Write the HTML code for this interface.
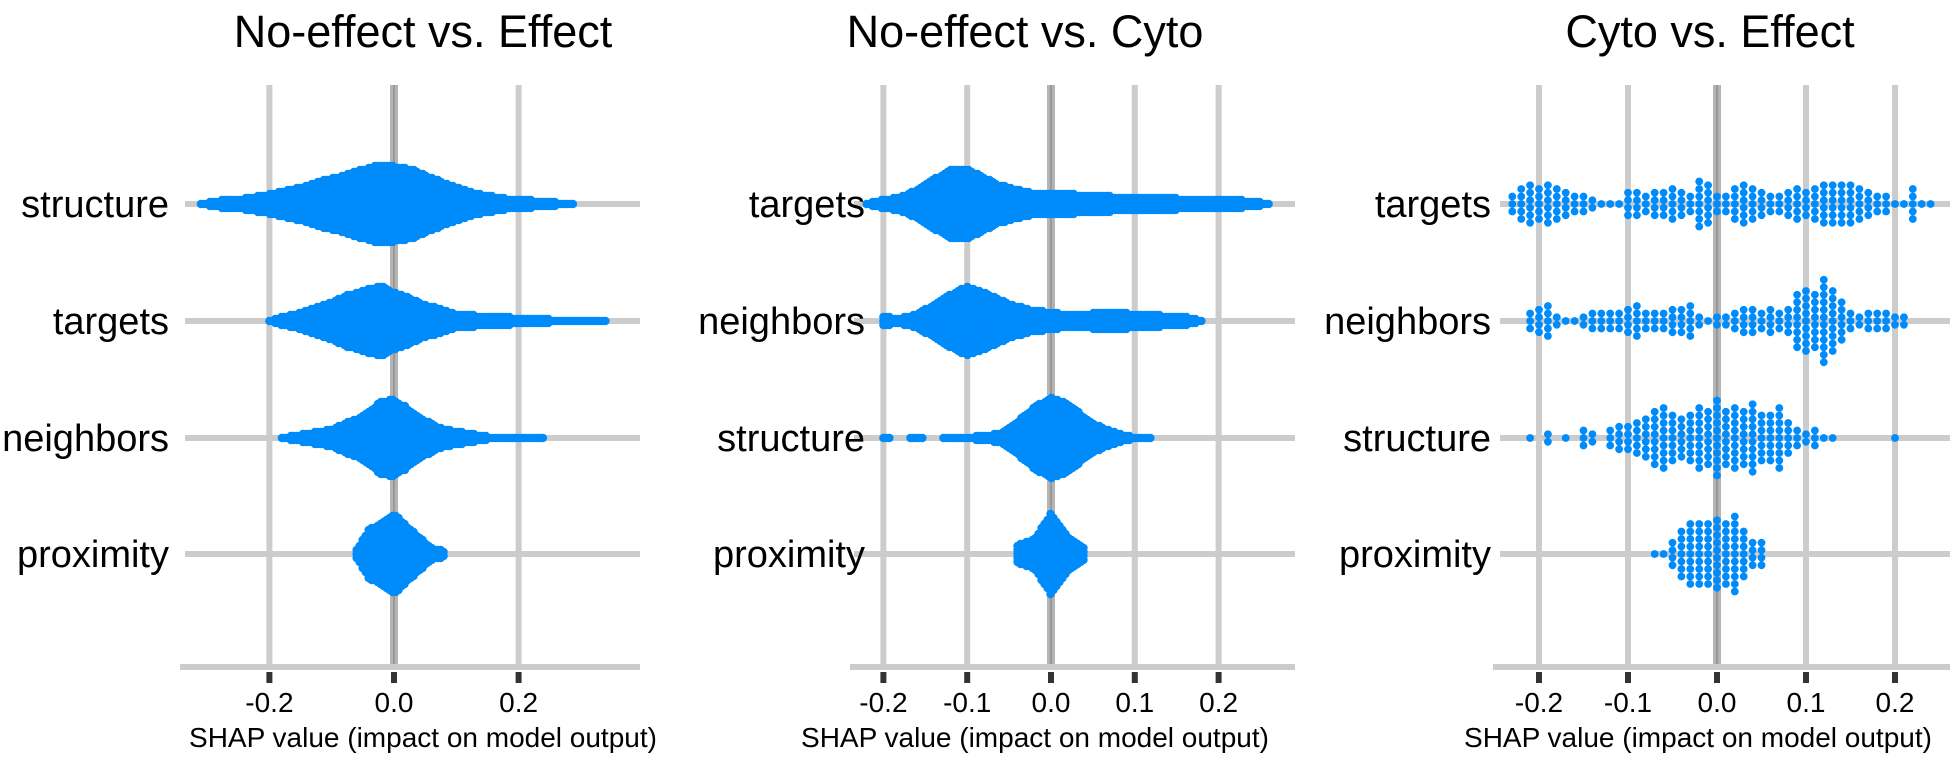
<!DOCTYPE html>
<html><head><meta charset="utf-8"><style>
html,body{margin:0;padding:0;background:#fff;}
svg{display:block;font-family:"Liberation Sans",Arial,sans-serif;}
</style></head><body>
<svg id="chart" width="1953" height="758" viewBox="0 0 1953 758" xmlns="http://www.w3.org/2000/svg"></svg>
<script>
// ---- data ----
const panelTitles = ["No-effect vs. Effect", "No-effect vs. Cyto", "Cyto vs. Effect"];
const p1Features = ["structure", "targets", "neighbors", "proximity"];
const p2Features = ["targets", "neighbors", "structure", "proximity"];
const p3Features = ["targets", "neighbors", "structure", "proximity"];
const p1Ticks = [-0.2, 0.0, 0.2];
const p2Ticks = [-0.2, -0.1, 0.0, 0.1, 0.2];
const p3Ticks = [-0.2, -0.1, 0.0, 0.1, 0.2];
const p1TickLabels = ["-0.2", "0.0", "0.2"];
const p2TickLabels = ["-0.2", "-0.1", "0.0", "0.1", "0.2"];
const p3TickLabels = ["-0.2", "-0.1", "0.0", "0.1", "0.2"];
// histogram bins: start value, bin width, counts per bin
const p1Start = [-0.31, -0.20, -0.18, -0.06];
const p1Counts = [
  [1,2,3,3,4,5,6,8,9,11,13,14,16,18,20,20,19,18,15,13,10,8,6,5,4,3,3,2,2,1,1],
  [1,3,4,6,8,10,13,15,17,18,15,13,10,8,6,4,4,3,3,3,2,2,2,1,1,1,1,1],
  [1,2,3,4,5,8,10,14,19,20,16,11,8,5,4,3,2,1,1,1,1,1],
  [3,13,16,21,15,9,4,2]
];
const p2Start = [-0.22, -0.20, -0.20, -0.04];
const p2Counts = [
  [1,3,4,8,13,18,18,14,10,8,6,6,6,5,5,4,4,4,4,3,3,3,3,2,1],
  [3,2,4,9,14,18,15,11,8,6,5,4,4,5,5,4,4,3,3,1],
  [1,0,1,0,1,1,2,3,9,16,21,18,11,6,3,1,1],
  [5,8,21,9,4]
];
const p3Start = [-0.23, -0.21, -0.21, -0.07];
const p3Counts = [
  [3,5,6,5,6,5,4,3,3,2,1,1,1,4,4,3,4,4,5,4,3,7,6,3,3,5,6,5,4,3,3,4,5,4,5,6,6,6,6,5,4,3,3,1,1,5,1,1],
  [3,4,5,2,1,1,2,3,3,3,3,4,5,3,3,3,4,4,5,2,1,2,2,3,4,4,3,4,3,4,8,9,8,12,9,6,3,2,3,3,3,2,2],
  [1,0,2,0,1,0,3,2,0,3,4,4,5,6,8,9,7,6,7,9,8,11,8,9,8,10,7,7,9,5,3,2,3,1,1,0,0,0,0,0,0,1],
  [1,1,4,7,9,9,9,10,9,11,7,4,4]
];
// ---- layout ----
const NS = "http://www.w3.org/2000/svg";
const svg = document.getElementById("chart");
function mk(tag, attrs, parent){
  const e = document.createElementNS(NS, tag);
  for (const k in attrs) e.setAttribute(k, attrs[k]);
  (parent||svg).appendChild(e); return e;
}
const rowY = [204, 321, 438, 554];
const panels = [
  {title:panelTitles[0], feats:p1Features, ticks:p1Ticks, tl:p1TickLabels, starts:p1Start, counts:p1Counts, bw:0.02,
   zero:394, unit:623, x0:180, x1:640, rx0:185, labelRight:169, titleX:423, xlabX:423, step:4, sub:3, r:4.2, smooth:true},
  {title:panelTitles[1], feats:p2Features, ticks:p2Ticks, tl:p2TickLabels, starts:p2Start, counts:p2Counts, bw:0.02,
   zero:1051, unit:838, x0:850, x1:1295, rx0:854, labelRight:865, titleX:1025, xlabX:1035, step:4, sub:3, r:4.2, smooth:true},
  {title:panelTitles[2], feats:p3Features, ticks:p3Ticks, tl:p3TickLabels, starts:p3Start, counts:p3Counts, bw:0.01,
   zero:1717, unit:890, x0:1493, x1:1950, rx0:1500, labelRight:1491, titleX:1710, xlabX:1698, step:7.5, sub:0, r:3.9, smooth:false}
];
panels.forEach((p, pi) => {
  const g = mk("g", {});
  
  
  const X = v => p.zero + v * p.unit;
  p.ticks.forEach((t, i) => {
    if (t === 0) return;
    const l = mk("line", {x1:X(t), x2:X(t), y1:85, y2:667, stroke:"#cccccc", "stroke-width":6}, g);
    
    
  });
  rowY.forEach((y, i) => {
    const l = mk("line", {x1:p.rx0, x2:p.x1, y1:y, y2:y, stroke:"#cccccc", "stroke-width":6}, g);
    
    
  });
  const z = mk("line", {x1:X(0), x2:X(0), y1:85, y2:667, stroke:"#b4b4b4", "stroke-width":8}, g);
  
  
  mk("line", {x1:X(0), x2:X(0), y1:85, y2:667, stroke:"#999", "stroke-width":2}, g);
  const ax = mk("line", {x1:p.x0, x2:p.x1, y1:667, y2:667, stroke:"#cccccc", "stroke-width":6}, g);
  
  
  p.ticks.forEach((t, i) => {
    const tk = mk("rect", {x:X(t)-3, y:672, width:6, height:11, fill:"#333"}, g);
    
    
    const tx = mk("text", {x:X(t), y:712, "font-size":28, "text-anchor":"middle", fill:"#000"}, g);
    tx.textContent = p.tl[i];
    
    
  });
  p.feats.forEach((f, fi) => {
    const y0 = rowY[fi];
    const dg = mk("g", {fill:"#008bfb"}, g);
    
    
    const cnts = p.counts[fi];
    const drawCol = (xx, n) => {
      for (let k = 0; k < n; k++) {
        const off = (k % 2 === 0 ? 1 : -1) * Math.ceil(k/2) * p.step + (n % 2 === 0 ? p.step/2 : 0);
        mk("circle", {cx:xx.toFixed(1), cy:(y0 + off).toFixed(1), r:p.r}, dg);
      }
    };
    if (p.smooth) {
      const s0 = p.starts[fi], L = cnts.length;
      const xa = X(s0), xb = X(s0 + (L-1)*p.bw);
      for (let xx = xa; xx <= xb + 0.01; xx += p.sub) {
        const fb = (xx - xa) / (p.bw * p.unit);
        const i0 = Math.min(Math.floor(fb), L-1), i1 = Math.min(i0+1, L-1);
        const fr = fb - i0;
        let n = cnts[i0]*(1-fr) + cnts[i1]*fr;
        if (cnts[i0] === 0 || cnts[i1] === 0) n = fr < 0.5 ? cnts[i0] : cnts[i1];
        drawCol(xx, Math.round(n));
      }
    } else {
      cnts.forEach((n, bi) => drawCol(X(p.starts[fi] + bi * p.bw), n));
    }
    const lb = mk("text", {x:p.labelRight, y:y0+13, "font-size":38, "text-anchor":"end", fill:"#000"}, g);
    lb.textContent = f;
    
    
  });
  const tt = mk("text", {x:p.titleX, y:47, "font-size":45, "text-anchor":"middle", fill:"#000"}, g);
  tt.textContent = p.title;
  
  
  const xl = mk("text", {x:p.xlabX, y:747, "font-size":28, "text-anchor":"middle", fill:"#000"}, g);
  xl.textContent = "SHAP value (impact on model output)";
  
  
});
</script>
</body></html>
